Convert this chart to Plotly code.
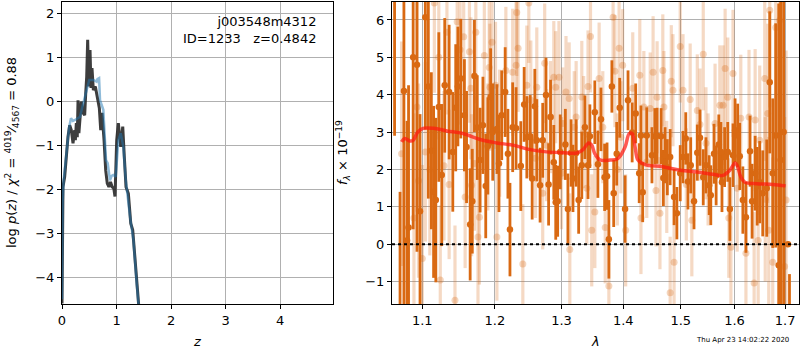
import plotly.graph_objects as go

# ---------------- left panel: log p(z) ----------------
Z_RAW = [0.000, 0.005, 0.018, 0.049, 0.079, 0.110, 0.141, 0.171, 0.202, 0.233, 0.245, 0.263, 0.280,
         0.294, 0.310, 0.330, 0.354, 0.385, 0.416, 0.435, 0.453, 0.471, 0.490, 0.514, 0.532, 0.550,
         0.575, 0.611, 0.648, 0.685, 0.710, 0.734, 0.771, 0.801, 0.830, 0.860, 0.890, 0.920, 0.950,
         0.972, 1.003, 1.033, 1.077, 1.114, 1.143, 1.174, 1.217, 1.261, 1.297, 1.339, 1.382, 1.400, 1.430]
LOGP_RAW = [-4.60, -3.00, -1.95, -1.72, -1.18, -0.81, -0.55, -0.66, -0.96, -0.66, -0.89, -0.50, -0.82,
            0.02, -0.73, -0.27, -0.01, -0.27, -0.32, 0.18, 0.55, 1.39, 0.33, 1.16, 0.30, 0.75,
            0.25, 0.33, 0.06, -0.16, -0.66, -0.27, -0.89, -1.57, -1.87, -1.95, -1.84, -1.95, -1.98,
            -2.17, -0.89, -0.50, -1.04, -0.58, -1.27, -1.95, -2.10, -2.78, -2.93, -3.69, -4.37, -4.60, -5.00]

Z_SMOOTH = [0.000, 0.012, 0.030, 0.060, 0.100, 0.130, 0.165, 0.200, 0.239, 0.290, 0.330, 0.390, 0.453,
            0.500, 0.575, 0.636, 0.650, 0.680, 0.697, 0.758, 0.807, 0.838, 0.880, 0.910, 0.940, 0.985,
            1.034, 1.077, 1.125, 1.170, 1.248, 1.310, 1.370, 1.400, 1.430]
LOGP_SMOOTH = [-4.50, -2.30, -1.80, -1.40, -1.05, -0.60, -0.39, -0.45, -0.43, -0.40, -0.36, -0.05, 0.25,
               0.48, 0.48, 0.44, 0.50, 0.52, 0.02, -0.20, -1.34, -1.41, -1.80, -1.70, -1.68, -1.72,
               -0.89, -0.73, -1.04, -1.80, -2.63, -3.16, -4.14, -4.60, -5.00]

# ---------------- right panel: spectrum ----------------
DARK_WAVE = [1.064, 1.071, 1.076, 1.080, 1.082, 1.088, 1.093, 1.097, 1.104, 1.108, 1.112, 1.115, 1.118,
             1.122, 1.126, 1.130, 1.136, 1.141, 1.145, 1.148, 1.152, 1.157, 1.160, 1.165, 1.168, 1.171,
             1.175, 1.179, 1.183, 1.187, 1.190, 1.194, 1.197, 1.203, 1.206, 1.210, 1.215, 1.219, 1.222,
             1.226, 1.231, 1.238, 1.243, 1.247, 1.252, 1.255, 1.259, 1.262, 1.267, 1.271, 1.276, 1.280,
             1.283, 1.288, 1.291, 1.294, 1.298, 1.306, 1.310, 1.315, 1.318, 1.323, 1.327, 1.332, 1.337,
             1.342, 1.345, 1.353, 1.358, 1.363, 1.369, 1.373, 1.376, 1.381, 1.384, 1.389, 1.394, 1.403,
             1.408, 1.415, 1.421, 1.427, 1.430, 1.433, 1.440, 1.449, 1.454, 1.458, 1.465, 1.469, 1.472,
             1.476, 1.481, 1.488, 1.493, 1.499, 1.504, 1.509, 1.513, 1.518, 1.524, 1.530, 1.535, 1.541,
             1.546, 1.552, 1.555, 1.561, 1.565, 1.570, 1.574, 1.576, 1.581, 1.587, 1.591, 1.597, 1.601,
             1.606, 1.610, 1.616, 1.622, 1.630, 1.634, 1.640, 1.644, 1.649, 1.655, 1.663, 1.669, 1.675,
             1.681, 1.687, 1.691, 1.697, 1.706, 1.709]
DARK_FLUX = [6.90, -2.00, 4.10, 0.10, 0.45, 5.00, 4.80, 0.88, 6.07, 4.22, 2.50, 1.40, 1.18,
             3.67, 1.85, 4.25, 4.07, 2.47, 3.65, 4.22, 4.43, 3.45, 2.60, 0.53, 1.15, 4.50,
             3.12, 2.25, 3.18, 1.56, 2.63, 3.94, 3.00, 3.08, 2.16, 3.45, 4.07, 2.42, 0.39,
             3.13, 3.10, 2.09, 3.74, 2.86, 2.89, 1.76, 3.69, 2.78, 1.58, 2.78, 3.99, 1.60,
             3.40, 2.19, 1.12, 1.15, 2.47, 2.67, 0.94, 2.44, 1.76, 2.44, 1.18, 2.11, 3.13,
             2.11, 2.89, 3.53, 2.14, 3.34, 1.79, 1.82, 0.13, 4.22, 1.36, 2.42, 3.65, 0.94,
             3.85, 2.99, 3.50, 1.90, 2.91, 1.39, 2.91, 2.38, 2.89, 2.90, 2.89, 1.77, 2.38,
             2.06, 2.33, 1.26, 0.83, 1.90, 2.33, 2.83, 1.68, 2.11, 1.15, 2.45, 2.85, 1.79,
             2.11, 1.58, 1.31, 2.42, 1.84, 2.67, 2.47, 1.66, 2.33, 2.47, 0.94, 2.38, 3.05,
             2.91, 2.35, 1.18, 0.72, 2.49, 1.15, 1.90, 1.55, 1.66, 1.36, 1.50, 4.33, 1.90,
             2.91, -0.56, 2.25, 3.00, 0.00, -3.00]
DARK_ERR = [4.0, 3.4, 6.0, 3.2, 3.8, 4.6, 5.0, 2.6, 3.0, 3.0, 2.1, 2.3, 2.2,
            2.0, 1.9, 1.8, 1.8, 1.6, 1.7, 1.6, 1.6, 1.5, 1.5, 1.5, 1.4, 1.5,
            1.4, 1.4, 1.3, 1.4, 1.3, 1.3, 1.3, 1.2, 1.3, 1.2, 1.2, 1.2, 1.25,
            1.2, 1.1, 1.2, 1.0, 1.1, 1.1, 1.1, 1.0, 1.1, 1.0, 1.0, 1.0, 1.1,
            1.0, 1.0, 1.0, 0.95, 1.0, 0.95, 0.95, 0.9, 0.9, 0.9, 0.9, 0.9, 0.85,
            0.9, 0.85, 0.85, 0.9, 0.85, 0.9, 0.9, 1.05, 0.7, 0.9, 0.85, 0.8, 0.9,
            0.8, 0.8, 0.8, 0.8, 0.8, 0.8, 0.75, 0.75, 0.75, 0.75, 0.75, 0.75, 0.75,
            0.75, 0.75, 0.75, 0.7, 0.75, 0.7, 0.7, 0.75, 0.75, 0.75, 0.75, 0.75, 0.75,
            0.75, 0.8, 0.8, 0.8, 0.8, 0.8, 0.8, 0.8, 0.8, 0.8, 0.85, 0.85, 0.85,
            0.85, 0.9, 0.9, 0.95, 0.95, 1.0, 1.0, 1.05, 1.1, 1.15, 1.3, 1.9, 2.0,
            3.0, 7.0, 4.5, 6.0, 0.0, 2.2]

LIGHT_WAVE = [1.073, 1.089, 1.093, 1.095, 1.100, 1.104, 1.110, 1.116, 1.122, 1.124, 1.129, 1.133, 1.136,
              1.144, 1.147, 1.151, 1.156, 1.158, 1.164, 1.166, 1.167, 1.171, 1.173, 1.176, 1.178, 1.185,
              1.190, 1.192, 1.193, 1.196, 1.201, 1.203, 1.207, 1.216, 1.226, 1.231, 1.232, 1.234, 1.241,
              1.247, 1.250, 1.253, 1.260, 1.262, 1.271, 1.274, 1.277, 1.283, 1.288, 1.291, 1.296, 1.300,
              1.302, 1.307, 1.312, 1.313, 1.320, 1.323, 1.332, 1.335, 1.340, 1.342, 1.346, 1.348, 1.353,
              1.360, 1.366, 1.370, 1.376, 1.383, 1.386, 1.390, 1.393, 1.396, 1.399, 1.404, 1.416, 1.428,
              1.430, 1.435, 1.440, 1.446, 1.451, 1.456, 1.458, 1.463, 1.468, 1.470, 1.475, 1.481, 1.483,
              1.486, 1.488, 1.499, 1.504, 1.510, 1.517, 1.520, 1.530, 1.535, 1.541, 1.546, 1.550, 1.563,
              1.572, 1.578, 1.582, 1.587, 1.589, 1.593, 1.597, 1.605, 1.612, 1.622, 1.628, 1.638, 1.640,
              1.646, 1.649, 1.659, 1.660, 1.665, 1.667, 1.669, 1.675, 1.681, 1.689, 1.699, 1.702]
LIGHT_FLUX = [2.42, 0.70, 3.67, 1.70, -0.38, 2.47, 2.00, 6.45, 5.00, -0.96, 2.10, 5.67, 1.60,
              -1.50, 5.95, 5.20, 5.55, 1.26, 5.15, 4.17, 1.58, 2.16, 5.67, 0.19, 0.72, 5.05,
              2.60, 4.73, 4.20, 5.40, 4.25, 0.19, 2.97, 4.65, 4.60, 4.79, 6.20, 5.24, -0.53,
              4.25, 6.45, 3.85, 2.30, 4.20, 1.36, 4.84, 2.65, 3.40, 4.47, 4.20, 4.47, 1.90,
              3.23, 4.07, 3.90, -0.14, 3.13, 3.40, 3.94, 3.00, 1.50, 4.22, 5.56, 0.37, 0.86,
              4.43, 3.13, 0.45, -1.12, 6.07, 4.63, 2.00, 5.24, 2.86, 4.79, 0.37, 4.17, 4.52,
              0.70, 3.67, 2.20, 3.63, 4.60, 1.44, 3.93, 0.83, 4.65, 3.67, 1.80, -1.30, 4.36,
              4.12, -0.48, 5.29, 4.12, 1.60, 3.87, 0.64, 3.58, 3.20, 5.08, 2.70, 2.00, 3.23,
              3.72, 3.72, 4.70, 3.93, 0.70, -0.08, 4.57, 1.50, 3.37, -0.24, 3.40, -1.04, 3.32,
              0.10, 2.78, 4.43, 1.20, 3.50, 0.37, 6.26, -0.48, 5.80, 5.99, -0.60, 1.18]
LIGHT_ERR = [3.0, 2.8, 2.8, 2.6, 2.5, 2.4, 2.3, 2.4, 2.2, 2.0, 2.0, 2.2, 2.0,
             2.0, 2.0, 2.0, 2.0, 1.9, 1.9, 1.9, 1.9, 1.8, 1.9, 1.8, 1.8, 1.8,
             1.7, 1.8, 1.7, 1.8, 1.7, 1.7, 1.7, 1.7, 1.7, 1.7, 1.7, 1.7, 1.6,
             1.6, 1.6, 1.6, 1.6, 1.6, 1.5, 1.6, 1.5, 1.5, 1.5, 1.5, 1.5, 1.5,
             1.5, 1.5, 1.5, 1.5, 1.5, 1.5, 1.5, 1.5, 1.5, 1.5, 1.5, 1.5, 1.5,
             1.5, 1.5, 1.5, 1.5, 1.5, 1.5, 1.5, 1.5, 1.5, 1.5, 1.5, 1.5, 1.5,
             1.5, 1.5, 1.5, 1.5, 1.5, 1.5, 1.5, 1.5, 1.5, 1.5, 1.5, 1.5, 1.5,
             1.5, 1.5, 1.5, 1.5, 1.5, 1.5, 1.5, 1.5, 1.5, 1.5, 1.5, 1.5, 1.6,
             1.6, 1.6, 1.6, 1.6, 1.6, 1.6, 1.7, 1.7, 1.7, 1.8, 1.8, 1.9, 1.9,
             2.0, 2.0, 2.2, 2.2, 2.4, 2.5, 2.6, 2.8, 3.0, 3.5, 4.0, 4.0]

MODEL_WAVE = [1.073, 1.077, 1.084, 1.088, 1.094, 1.101, 1.115, 1.133, 1.155, 1.179, 1.203, 1.226, 1.252,
              1.277, 1.302, 1.324, 1.334, 1.343, 1.348, 1.353, 1.361, 1.378, 1.391, 1.403, 1.410, 1.415,
              1.420, 1.425, 1.437, 1.468, 1.499, 1.530, 1.559, 1.578, 1.591, 1.601, 1.605, 1.612, 1.620,
              1.644, 1.675, 1.701]
MODEL_FLUX = [2.74, 2.83, 2.76, 2.78, 3.00, 3.10, 3.10, 3.03, 2.96, 2.80, 2.71, 2.65, 2.53,
              2.47, 2.45, 2.44, 2.53, 2.71, 2.65, 2.42, 2.26, 2.25, 2.29, 2.60, 2.96, 2.96,
              2.60, 2.25, 2.13, 2.07, 1.98, 1.93, 1.87, 1.84, 1.98, 2.17, 2.11, 1.80, 1.66,
              1.62, 1.60, 1.56]

FIELD_NAME = "j003548m4312"
OBJ_ID = 1233
Z_BEST = 0.4842
TIMESTAMP = "Thu Apr 23 14:02:22 2020"

LX_TICKS = [0, 1, 2, 3, 4]
LY_TICKS = [-4, -3, -2, -1, 0, 1, 2]
RX_TICKS = [1.1, 1.2, 1.3, 1.4, 1.5, 1.6, 1.7]
RY_TICKS = [-1, 0, 1, 2, 3, 4, 5, 6]

DARK = "rgb(217,105,18)"
LIGHT_BAR = "rgba(217,105,18,0.25)"
LIGHT_PT = "rgba(217,105,18,0.28)"
FONT = "DejaVu Sans"

fig = go.Figure()

fig.add_trace(go.Scatter(x=Z_RAW, y=LOGP_RAW, mode="lines", xaxis="x", yaxis="y",
                         line=dict(color="rgba(40,40,40,0.9)", width=3), showlegend=False))
fig.add_trace(go.Scatter(x=Z_SMOOTH, y=LOGP_SMOOTH, mode="lines", xaxis="x", yaxis="y",
                         line=dict(color="rgba(31,119,180,0.5)", width=2.5), showlegend=False))

fig.add_trace(go.Scatter(x=LIGHT_WAVE, y=LIGHT_FLUX, mode="markers", xaxis="x2", yaxis="y2",
                         marker=dict(color=LIGHT_PT, size=7, line=dict(width=0)),
                         error_y=dict(type="data", array=LIGHT_ERR, color=LIGHT_BAR, thickness=3.2, width=0),
                         showlegend=False))
fig.add_trace(go.Scatter(x=DARK_WAVE, y=DARK_FLUX, mode="markers", xaxis="x2", yaxis="y2",
                         marker=dict(color=DARK, size=6.5, line=dict(width=0)),
                         error_y=dict(type="data", array=DARK_ERR, color=DARK, thickness=2.8, width=0),
                         showlegend=False))
fig.add_trace(go.Scatter(x=MODEL_WAVE, y=MODEL_FLUX, mode="lines", xaxis="x2", yaxis="y2",
                         line=dict(color="rgba(255,25,15,0.72)", width=3.5, shape="spline"),
                         showlegend=False))

fig.add_shape(type="line", xref="x2 domain", yref="y2", x0=0, x1=1, y0=0, y1=0,
              line=dict(color="black", width=2, dash="dot"))

ydom = [1 - 304 / 350, 1 - 2 / 350]
axis_common = dict(showline=True, linecolor="black", linewidth=1, mirror=True,
                   ticks="outside", ticklen=4, tickcolor="black", tickwidth=1,
                   showgrid=True, gridcolor="#b0b0b0", gridwidth=1, zeroline=False,
                   automargin=False,
                   tickfont=dict(family=FONT, size=13, color="black"))

fig.update_layout(
    width=800, height=350,
    margin=dict(l=0, r=0, t=0, b=0, autoexpand=False),
    paper_bgcolor="white", plot_bgcolor="white",
    xaxis=dict(domain=[62 / 800, 333 / 800], range=[0, 4.97], tickvals=LX_TICKS,
               anchor="y", **axis_common),
    yaxis=dict(domain=ydom, range=[-4.61, 2.25], tickvals=LY_TICKS, anchor="x", **axis_common),
    xaxis2=dict(domain=[392 / 800, 799 / 800], type="log", range=[0.0256, 0.2377],
                tickvals=RX_TICKS, ticktext=[f"{v:.1f}" for v in RX_TICKS], anchor="y2", **axis_common),
    yaxis2=dict(domain=ydom, range=[-1.6, 6.48], tickvals=RY_TICKS, anchor="x2", **axis_common),
)


def px(x):
    return x / 800


def py(y):
    return 1 - y / 350


ann = [
    dict(x=px(318), y=py(12), xanchor="right", yanchor="top", align="right",
         text=f"{FIELD_NAME}<br>ID={OBJ_ID}   z={Z_BEST:.4f}",
         font=dict(family=FONT, size=13, color="black")),
    dict(x=px(197), y=py(341), xanchor="center", yanchor="middle", text="<i>z</i>",
         font=dict(family=FONT, size=13, color="black")),
    dict(x=px(595), y=py(341), xanchor="center", yanchor="middle", text="<i>λ</i>",
         font=dict(family=FONT, size=13, color="black")),
    dict(x=px(12), y=py(153), xanchor="center", yanchor="middle", textangle=-90,
         text="log <i>p</i>(<i>z</i>) / <i>χ</i><sup>2</sup> = <sup>4019</sup>⁄<sub>4567</sub> = 0.88",
         font=dict(family=FONT, size=13, color="black")),
    dict(x=px(343), y=py(153), xanchor="center", yanchor="middle", textangle=-90,
         text="<i>f</i><sub><i>λ</i></sub> × 10<sup>−19</sup>",
         font=dict(family=FONT, size=13, color="black")),
    dict(x=px(742), y=py(340), xanchor="center", yanchor="middle", text=TIMESTAMP,
         font=dict(family=FONT, size=7, color="black")),
]
for a in ann:
    a.update(xref="paper", yref="paper", showarrow=False)
fig.update_layout(annotations=ann)

fig.write_html("out.html", config={"displayModeBar": False},
               post_script="document.body.style.margin='0';document.body.style.overflow='hidden';")
